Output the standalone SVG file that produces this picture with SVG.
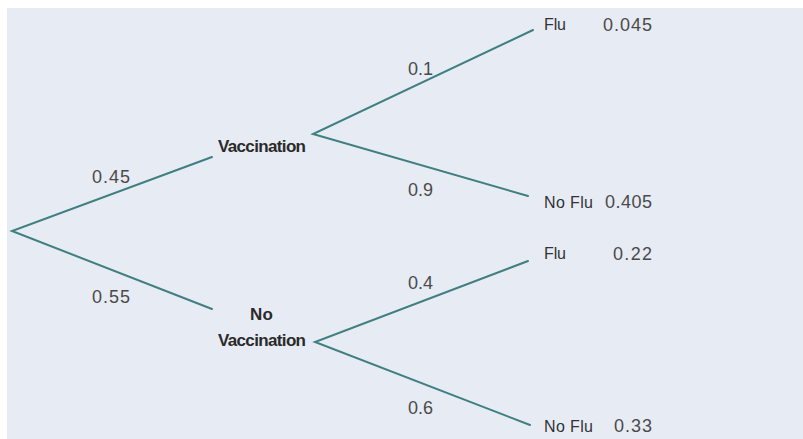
<svg xmlns="http://www.w3.org/2000/svg" width="803" height="439" viewBox="0 0 803 439">
<style>
.bg{fill:#e7ebf3}
.ln{stroke:#3f7f82;stroke-width:2;fill:none;stroke-linecap:round}
.p{font-family:"Liberation Sans",Arial,sans-serif;font-size:18px;fill:#4a4a4a}
.n{font-family:"Liberation Sans",Arial,sans-serif;font-size:17px;fill:#2a2a2a;font-weight:bold}
.o{font-family:"Liberation Sans",Arial,sans-serif;font-size:16px;fill:#333}
</style>
<rect x="0" y="0" width="803" height="439" fill="#ffffff"/>
<rect class="bg" x="7" y="8" width="796" height="431"/>
<g id="connectors">
<path class="ln" d="M212,157 L12,231 L212,309"/>
<path class="ln" d="M533,30 L313,134 L528,196"/>
<path class="ln" d="M528,261 L315,342 L530,425"/>
</g>
<g id="labels">
<text class="p" x="92" y="183" textLength="38">0.45</text>
<text class="p" x="92" y="303" textLength="38">0.55</text>
<text class="p" x="408" y="75" textLength="25">0.1</text>
<text class="p" x="408" y="196" textLength="25">0.9</text>
<text class="p" x="408" y="289" textLength="25">0.4</text>
<text class="p" x="408" y="414" textLength="25">0.6</text>
</g>
<g id="node-vaccination">
<text class="n" x="218" y="152" textLength="88">Vaccination</text>
</g>
<g id="node-novaccination">
<text class="n" x="250" y="320" textLength="23">No</text>
<text class="n" x="218" y="346" textLength="88">Vaccination</text>
</g>
<g id="node-v-flu">
<text class="o" x="544" y="30" textLength="22">Flu</text>
<text class="p" x="603" y="31" textLength="49">0.045</text>
</g>
<g id="node-v-noflu">
<text class="o" x="544" y="208" textLength="49">No Flu</text>
<text class="p" x="605" y="208" textLength="47">0.405</text>
</g>
<g id="node-nv-flu">
<text class="o" x="544" y="259" textLength="22">Flu</text>
<text class="p" x="613" y="260" textLength="39">0.22</text>
</g>
<g id="node-nv-noflu">
<text class="o" x="544" y="432" textLength="49">No Flu</text>
<text class="p" x="614" y="432" textLength="38">0.33</text>
</g>
</svg>
